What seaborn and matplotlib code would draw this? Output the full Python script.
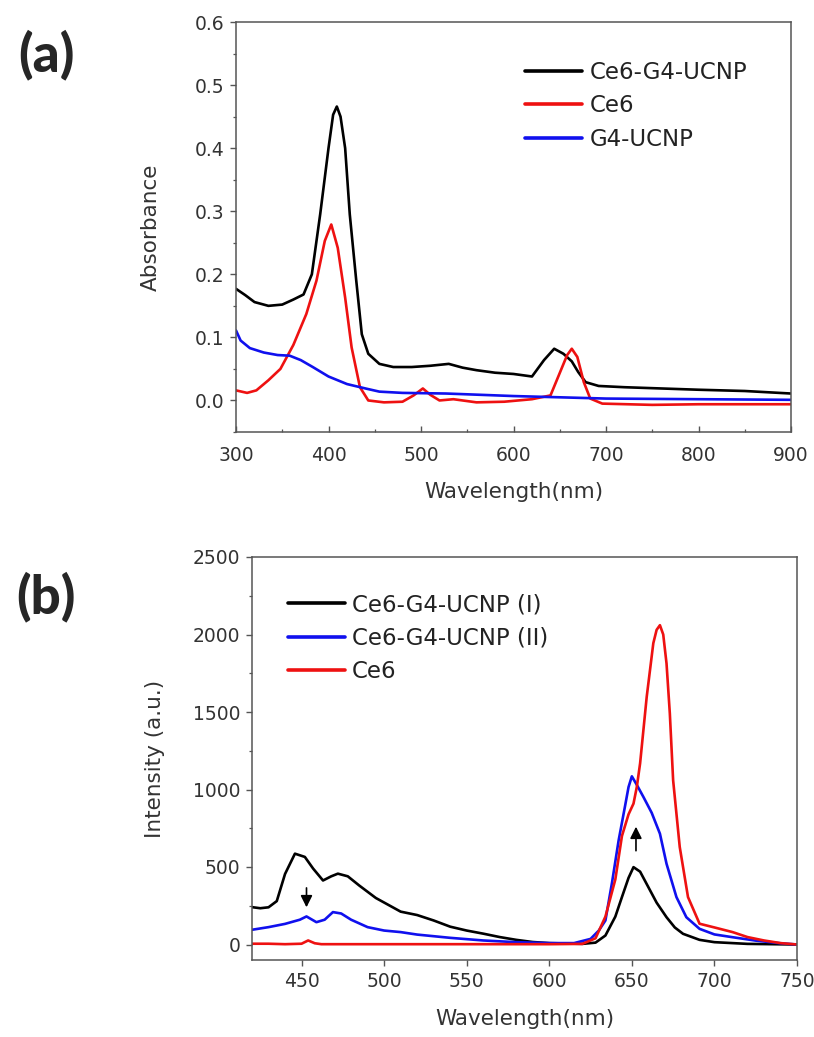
import numpy as np
import pandas as pd
import matplotlib
matplotlib.use("Agg")
import matplotlib.pyplot as plt
from matplotlib.ticker import MultipleLocator, FormatStrFormatter
import seaborn as sns

# ---------------- (a) UV-vis absorbance ----------------
abs_wl_conj = [300, 310, 320, 335, 350, 362, 373, 382, 391, 400, 405, 409, 413, 418, 423,
               430, 436, 443, 455, 470, 490, 510, 530, 545, 560, 580, 600, 620, 633, 644,
               654, 663, 670, 678, 692, 720, 760, 800, 850, 900]
abs_conj = [0.177, 0.167, 0.156, 0.150, 0.152, 0.160, 0.168, 0.200, 0.295, 0.400, 0.453, 0.466,
            0.450, 0.400, 0.295, 0.190, 0.105, 0.074, 0.058, 0.053, 0.053, 0.055, 0.058, 0.052,
            0.048, 0.044, 0.042, 0.038, 0.064, 0.082, 0.074, 0.062, 0.045, 0.029, 0.023, 0.021,
            0.019, 0.017, 0.015, 0.011]

abs_wl_ce6 = [300, 312, 322, 335, 348, 362, 376, 387, 396, 403, 410, 418, 425, 434, 443, 460,
              480, 492, 502, 510, 520, 535, 560, 590, 620, 640, 649, 658, 663, 669, 676, 683,
              696, 750, 800, 850, 900]
abs_ce6 = [0.016, 0.012, 0.016, 0.032, 0.050, 0.088, 0.137, 0.190, 0.253, 0.279, 0.242, 0.163,
           0.084, 0.021, 0.000, -0.003, -0.002, 0.008, 0.019, 0.009, 0.000, 0.002, -0.003,
           -0.002, 0.002, 0.008, 0.040, 0.072, 0.082, 0.069, 0.029, 0.003, -0.005, -0.007,
           -0.006, -0.006, -0.006]

abs_wl_ucnp = [300, 305, 315, 330, 345, 358, 370, 383, 400, 420, 440, 455, 480, 527, 600,
               650, 700, 800, 900]
abs_ucnp = [0.111, 0.095, 0.083, 0.076, 0.072, 0.071, 0.064, 0.053, 0.038, 0.026, 0.019,
            0.014, 0.012, 0.011, 0.007, 0.005, 0.003, 0.002, 0.001]

# ---------------- (b) emission spectra ----------------
em_wl_1 = [420, 425, 430, 435, 440, 446, 452, 457, 463, 468, 472, 478, 485, 495, 510, 520,
           530, 540, 550, 560, 570, 580, 590, 600, 620, 628, 634, 640, 644, 648, 651, 655,
           660, 665, 671, 676, 681, 691, 700, 720, 750]
em_1 = [241, 234, 240, 280, 455, 586, 565, 490, 413, 440, 457, 440, 380, 300, 212, 190, 155,
        115, 90, 70, 48, 30, 16, 9, 4, 12, 58, 180, 306, 430, 499, 470, 370, 270, 176, 110,
        69, 30, 15, 4, 0]

em_wl_2 = [420, 430, 440, 449, 453, 459, 464, 469, 474, 480, 490, 500, 510, 520, 540, 560,
           580, 600, 615, 625, 630, 634, 638, 642, 646, 648, 650, 653, 657, 662, 667, 671,
           677, 683, 691, 700, 711, 725, 740, 750]
em_2 = [95, 112, 133, 160, 181, 144, 160, 209, 200, 160, 112, 90, 80, 64, 43, 26, 15, 9, 9,
        36, 90, 155, 400, 672, 900, 1016, 1085, 1030, 952, 850, 715, 521, 306, 176, 101, 65,
        47, 25, 8, 0]

em_wl_ce6 = [420, 430, 440, 450, 454, 458, 462, 480, 520, 560, 600, 620, 628, 634, 640, 644,
             648, 651, 653, 655, 659, 663, 665, 667, 669, 671, 673, 675, 679, 684, 691, 700,
             711, 720, 730, 740, 750]
em_ce6 = [5, 5, 2, 5, 26, 8, 2, 2, 2, 2, 2, 4, 40, 180, 420, 700, 840, 909, 1016, 1169, 1598,
          1944, 2030, 2060, 2000, 1813, 1490, 1059, 629, 306, 134, 110, 80, 48, 26, 9, 0]

labels_a = ["Ce6-G4-UCNP", "Ce6", "G4-UCNP"]
labels_b = ["Ce6-G4-UCNP (I)", "Ce6-G4-UCNP (II)", "Ce6"]

BLACK, RED, BLUE = "#000000", "#ee1111", "#1010ee"
AXIS_GREY = "#555555"
TEXT_GREY = "#333333"

sns.set_style("ticks")
plt.rcParams["font.family"] = ["DejaVu Sans"]
plt.rcParams["axes.edgecolor"] = AXIS_GREY
plt.rcParams["xtick.color"] = AXIS_GREY
plt.rcParams["ytick.color"] = AXIS_GREY
plt.rcParams["xtick.labelcolor"] = TEXT_GREY
plt.rcParams["ytick.labelcolor"] = TEXT_GREY

W, H = 814, 1037
fig = plt.figure(figsize=(W / 100, H / 100), dpi=100)


def axes_px(left, top, right, bottom):
    return fig.add_axes([left / W, 1 - bottom / H, (right - left) / W, (bottom - top) / H])


ax_a = axes_px(236, 22, 791, 432)
ax_b = axes_px(252, 557, 797, 960)

LW = 1.9

series_a = [(abs_wl_conj, abs_conj, labels_a[0], BLACK),
            (abs_wl_ce6, abs_ce6, labels_a[1], RED),
            (abs_wl_ucnp, abs_ucnp, labels_a[2], BLUE)]
for wl, val, lab, col in series_a:
    df = pd.DataFrame({"wl": wl, "val": val})
    sns.lineplot(data=df, x="wl", y="val", ax=ax_a, color=col, lw=LW, label=lab,
                 estimator=None)

series_b = [(em_wl_1, em_1, labels_b[0], BLACK),
            (em_wl_2, em_2, labels_b[1], BLUE),
            (em_wl_ce6, em_ce6, labels_b[2], RED)]
for wl, val, lab, col in series_b:
    df = pd.DataFrame({"wl": wl, "val": val})
    sns.lineplot(data=df, x="wl", y="val", ax=ax_b, color=col, lw=LW, label=lab,
                 estimator=None)

# axis ranges and ticks
ax_a.set_xlim(300, 900)
ax_a.set_ylim(-0.05, 0.6)
ax_a.xaxis.set_major_locator(MultipleLocator(100))
ax_a.xaxis.set_minor_locator(MultipleLocator(50))
ax_a.set_yticks(np.arange(0, 0.61, 0.1))
ax_a.yaxis.set_minor_locator(MultipleLocator(0.05))
ax_a.yaxis.set_major_formatter(FormatStrFormatter("%.1f"))

ax_b.set_xlim(420, 750)
ax_b.set_ylim(-100, 2500)
ax_b.set_xticks(np.arange(450, 751, 50))
ax_b.set_yticks(np.arange(0, 2501, 500))
ax_b.yaxis.set_minor_locator(MultipleLocator(250))

for ax in (ax_a, ax_b):
    for sp in ax.spines.values():
        sp.set_visible(True)
        sp.set_linewidth(1.1)
        sp.set_color(AXIS_GREY)
    ax.tick_params(which="major", length=4.5, width=1.0, labelsize=13.5, pad=4)
    ax.tick_params(which="minor", length=2.5, width=0.9)

ax_a.tick_params(axis="x", which="both", direction="in", pad=10)
ax_a.tick_params(axis="y", which="both", direction="out")
ax_b.tick_params(axis="both", which="both", direction="out")

ax_a.set_xlabel("Wavelength(nm)", fontsize=15.5, color=TEXT_GREY, labelpad=12)
ax_b.set_xlabel("Wavelength(nm)", fontsize=15.5, color=TEXT_GREY, labelpad=13)
ax_a.set_ylabel("Absorbance", fontsize=15.5, color=TEXT_GREY, labelpad=24)
ax_b.set_ylabel("Intensity (a.u.)", fontsize=15.5, color=TEXT_GREY, labelpad=20)

leg_kw = dict(frameon=False, fontsize=16.5, handlelength=2.5, handletextpad=0.3,
              labelspacing=0.45, borderpad=0, borderaxespad=0, loc="upper left")
leg_a = ax_a.legend(bbox_to_anchor=(0.521, 0.905), **leg_kw)
leg_b = ax_b.legend(bbox_to_anchor=(0.066, 0.91), **leg_kw)
for leg in (leg_a, leg_b):
    for t in leg.get_texts():
        t.set_color("#222222")
    for h in leg.get_lines():
        h.set_linewidth(2.6)

# arrows marking the change between (I) and (II)
arrow_kw = dict(arrowstyle="-|>,head_length=0.7,head_width=0.35", color="black", lw=1.2,
                shrinkA=0, shrinkB=0)
ax_b.annotate("", xy=(453, 240), xytext=(453, 365), arrowprops=arrow_kw)
ax_b.annotate("", xy=(652.5, 760), xytext=(652.5, 605), arrowprops=arrow_kw)

# panel letters
for y_px, letter in ((55, "(a)"), (597, "(b)")):
    fig.text(46 / W, 1 - y_px / H, letter, fontsize=38, fontweight=900,
             family=["Lato", "DejaVu Sans"], ha="center", va="center")

fig.savefig("out.png", dpi=100)
